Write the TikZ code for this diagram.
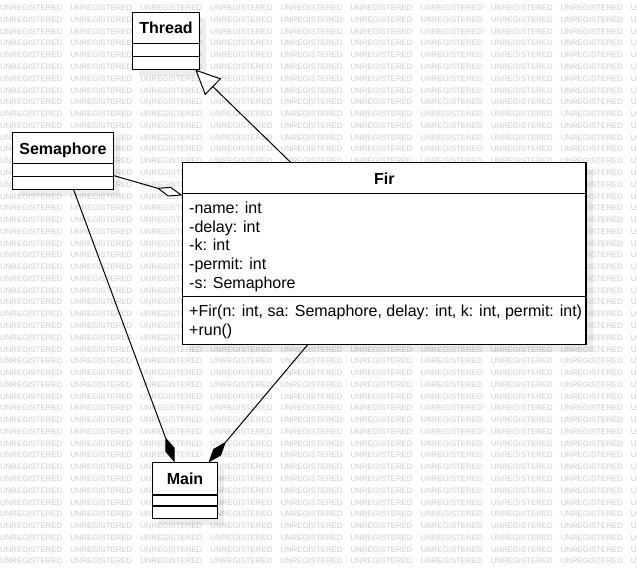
\documentclass[tikz,border=0pt]{standalone}
\usepackage{fontspec}
\setmainfont{Liberation Sans}
\usetikzlibrary{arrows.meta,calc}
\begin{document}
\begin{tikzpicture}[x=1pt,y=-1pt,
  cls/.style={draw=black, fill=white, line width=1.2pt, inner sep=0pt, outer sep=0pt},
  ttl/.style={font=\fontsize{16}{19}\selectfont\bfseries, anchor=base, inner sep=0pt},
  mem/.style={font=\fontsize{16}{19}\selectfont, anchor=base west, inner sep=0pt},
  wm/.style={font=\fontsize{7.8}{9}\selectfont, text=black!20, anchor=west, inner sep=0pt},
  shadowbox/.style={fill=black, opacity=0.07},
  sep/.style={draw=black, line width=1.2pt},
  conn/.style={draw=black, line width=1pt},
  gen/.style={conn, -{Triangle[length=25pt, width=23pt, fill=white]}},
  aggr/.style={conn, -{Diamond[length=27pt, width=10pt, fill=white]}},
  comp/.style={conn, -{Diamond[length=27pt, width=10pt, fill=black]}}
]
\useasboundingbox (0,0) rectangle (637,568);
\fill[white] (0,0) rectangle (637,568);
\begin{scope}
\clip (0,0) rectangle (637,568);
\foreach \r in {0,...,47} {
  \foreach \c in {0,...,9} {
    \pgfmathtruncatemacro\hid{(\c>=3)&&(\c<=7)&&(\r>=14)&&(\r<=28)}
    \ifnum\hid=0
      \node[wm] (wm-\r-\c) at ({70.08*\c}, {8+11.77*\r}) {UNREGISTERED};
    \fi
  }
}
\end{scope}

% shadows
\fill[shadowbox] (138.5,18.5) rectangle (205.5,75.5);
\fill[shadowbox] (18.5,138.5) rectangle (119.5,195.5);
\fill[shadowbox] (188.5,168.5) rectangle (593,351.5);
\fill[shadowbox] (158.5,468.5) rectangle (223.5,524.5);

% classes
\node[cls, minimum width=67pt, minimum height=57pt] (thread) at (166,41) {};
\node[cls, minimum width=101pt, minimum height=57pt] (sema) at (63,161) {};
\node[cls, minimum width=403.5pt, minimum height=182pt] (fir) at (384.25,253.5) {};
\node[cls, minimum width=65pt, minimum height=56pt] (main) at (185,490.5) {};

% compartments
\draw[sep] ($(thread.north west)+(0,31.2)$) -- ($(thread.north east)+(0,31.2)$);
\draw[sep] ($(thread.north west)+(0,43.8)$) -- ($(thread.north east)+(0,43.8)$);
\draw[sep] ($(sema.north west)+(0,31.2)$) -- ($(sema.north east)+(0,31.2)$);
\draw[sep] ($(sema.north west)+(0,43.8)$) -- ($(sema.north east)+(0,43.8)$);
\draw[sep] ($(fir.north west)+(0,31.2)$) -- ($(fir.north east)+(0,31.2)$);
\draw[sep] ($(fir.north west)+(0,134.2)$) -- ($(fir.north east)+(0,134.2)$);
\draw[sep] ($(main.north west)+(0,32.5)$) -- ($(main.north east)+(0,32.5)$);
\draw[sep] ($(main.north west)+(0,43.5)$) -- ($(main.north east)+(0,43.5)$);

% titles
\node[ttl] (thread-t) at (166,33.3) {Thread};
\node[ttl] (sema-t) at (63,154.3) {Semaphore};
\node[ttl] (fir-t) at (384.25,184.3) {Fir};
\node[ttl] (main-t) at (185,484) {Main};

% members
\node[mem] (a1) at (189,213.3) {-name: int};
\node[mem] (a2) at (189,232) {-delay: int};
\node[mem] (a3) at (189,250.7) {-k: int};
\node[mem] (a4) at (189,269.4) {-permit: int};
\node[mem] (a5) at (189,288) {-s: Semaphore};
\node[mem] (m1) at (189,316.5) {+Fir(n: int, sa: Semaphore, delay: int, k: int, permit: int)};
\node[mem] (m2) at (189,335) {+run()};

% connectors
\draw[gen] (fir) -- (thread);
\draw[aggr] (sema) -- (fir);
\draw[comp] (sema) -- (main);
\draw[comp] (fir) -- (main);
\end{tikzpicture}
\end{document}
